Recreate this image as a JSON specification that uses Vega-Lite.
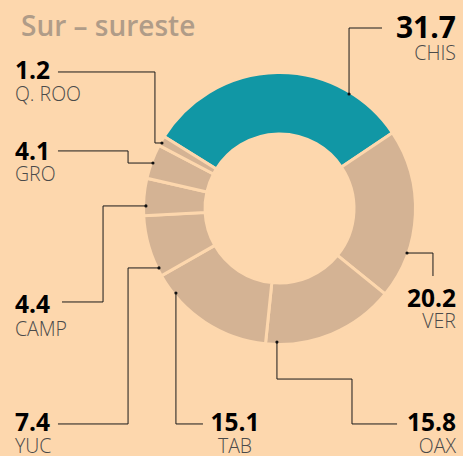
{
  "$schema": "https://vega.github.io/schema/vega-lite/v6.json",
  "autosize": {"type": "none"},
  "width": 367,
  "height": 417,
  "padding": {"left": 96, "top": 0, "right": 0, "bottom": 39},
  "background": "#FDD7AD",
  "config": {"view": {"stroke": null}},
  "datasets": {
    "shares": [
      {"state": "CHIS", "value": 31.7, "order": 1},
      {"state": "VER", "value": 20.2, "order": 2},
      {"state": "OAX", "value": 15.8, "order": 3},
      {"state": "TAB", "value": 15.1, "order": 4},
      {"state": "YUC", "value": 7.4, "order": 5},
      {"state": "CAMP", "value": 4.4, "order": 6},
      {"state": "GRO", "value": 4.1, "order": 7},
      {"state": "Q. ROO", "value": 1.2, "order": 8}
    ],
    "leaders": [
      {"state": "CHIS", "step": 1, "u": 0.762, "v": 1.342, "end": false},
      {"state": "CHIS", "step": 2, "u": 0.517, "v": 1.342, "end": false},
      {"state": "CHIS", "step": 3, "u": 0.517, "v": 0.851, "end": true},
      {"state": "Q. ROO", "step": 1, "u": -1.647, "v": 1.015, "end": false},
      {"state": "Q. ROO", "step": 2, "u": -0.926, "v": 1.015, "end": false},
      {"state": "Q. ROO", "step": 3, "u": -0.926, "v": 0.487, "end": false},
      {"state": "Q. ROO", "step": 4, "u": -0.874, "v": 0.487, "end": true},
      {"state": "GRO", "step": 1, "u": -1.647, "v": 0.428, "end": false},
      {"state": "GRO", "step": 2, "u": -1.126, "v": 0.428, "end": false},
      {"state": "GRO", "step": 3, "u": -1.126, "v": 0.338, "end": false},
      {"state": "GRO", "step": 4, "u": -0.941, "v": 0.338, "end": true},
      {"state": "CAMP", "step": 1, "u": -1.617, "v": -0.695, "end": false},
      {"state": "CAMP", "step": 2, "u": -1.312, "v": -0.695, "end": false},
      {"state": "CAMP", "step": 3, "u": -1.312, "v": 0.019, "end": false},
      {"state": "CAMP", "step": 4, "u": -0.993, "v": 0.019, "end": true},
      {"state": "YUC", "step": 1, "u": -1.647, "v": -1.602, "end": false},
      {"state": "YUC", "step": 2, "u": -1.126, "v": -1.602, "end": false},
      {"state": "YUC", "step": 3, "u": -1.126, "v": -0.442, "end": false},
      {"state": "YUC", "step": 4, "u": -0.896, "v": -0.442, "end": true},
      {"state": "TAB", "step": 1, "u": -0.569, "v": -1.602, "end": false},
      {"state": "TAB", "step": 2, "u": -0.770, "v": -1.602, "end": false},
      {"state": "TAB", "step": 3, "u": -0.770, "v": -0.628, "end": true},
      {"state": "OAX", "step": 1, "u": 0.874, "v": -1.602, "end": false},
      {"state": "OAX", "step": 2, "u": 0.539, "v": -1.602, "end": false},
      {"state": "OAX", "step": 3, "u": 0.539, "v": -1.268, "end": false},
      {"state": "OAX", "step": 4, "u": -0.019, "v": -1.268, "end": false},
      {"state": "OAX", "step": 5, "u": -0.019, "v": -0.993, "end": true},
      {"state": "VER", "step": 1, "u": 1.141, "v": -0.502, "end": false},
      {"state": "VER", "step": 2, "u": 1.141, "v": -0.331, "end": false},
      {"state": "VER", "step": 3, "u": 0.948, "v": -0.331, "end": true}
    ],
    "labels": [
      {"state": "CHIS", "num": "31.7", "name": "CHIS", "u": 1.312, "v": 1.268, "v2": 1.104, "align": "right"},
      {"state": "Q. ROO", "num": "1.2", "name": "Q. ROO", "u": -1.967, "v": 0.963, "v2": 0.799, "align": "left"},
      {"state": "GRO", "num": "4.1", "name": "GRO", "u": -1.967, "v": 0.361, "v2": 0.204, "align": "left"},
      {"state": "CAMP", "num": "4.4", "name": "CAMP", "u": -1.967, "v": -0.777, "v2": -0.948, "align": "left"},
      {"state": "YUC", "num": "7.4", "name": "YUC", "u": -1.967, "v": -1.654, "v2": -1.818, "align": "left"},
      {"state": "TAB", "num": "15.1", "name": "TAB", "u": -0.331, "v": -1.654, "v2": -1.818, "align": "center"},
      {"state": "OAX", "num": "15.8", "name": "OAX", "u": 1.312, "v": -1.654, "v2": -1.818, "align": "right"},
      {"state": "VER", "num": "20.2", "name": "VER", "u": 1.312, "v": -0.732, "v2": -0.888, "align": "right"}
    ],
    "title": [
      {"text": "Sur – sureste", "u": -1.922, "v": 1.283}
    ]
  },
  "layer": [
    {
      "data": {"name": "shares"},
      "mark": {"type": "arc", "outerRadius": 136, "innerRadius": 74.5, "stroke": "#FDD7AD", "strokeWidth": 3},
      "encoding": {
        "theta": {"field": "value", "type": "quantitative", "stack": true, "scale": {"range": [-1.0132, 5.27]}},
        "order": {"field": "order", "type": "quantitative"},
        "color": {"condition": {"test": "datum.state === 'CHIS'", "value": "#1197A5"}, "value": "#D4B394"}
      }
    },
    {
      "data": {"name": "leaders"},
      "mark": {"type": "line", "color": "#1a1a1a", "strokeWidth": 1},
      "encoding": {
        "x": {"field": "u", "type": "quantitative", "scale": {"domain": [-1.3643, 1.3643], "nice": false, "zero": false}, "axis": null},
        "y": {"field": "v", "type": "quantitative", "scale": {"domain": [-1.5502, 1.5502], "nice": false, "zero": false}, "axis": null},
        "detail": {"field": "state"},
        "order": {"field": "step", "type": "quantitative"}
      }
    },
    {
      "data": {"name": "leaders"},
      "transform": [{"filter": "datum.end"}],
      "mark": {"type": "circle", "color": "#111", "size": 10, "opacity": 1},
      "encoding": {
        "x": {"field": "u", "type": "quantitative"},
        "y": {"field": "v", "type": "quantitative"}
      }
    },
    {
      "data": {"name": "labels"},
      "transform": [{"filter": "datum.align === 'left'"}],
      "mark": {"type": "text", "align": "left", "baseline": "alphabetic", "font": "Open Sans", "fontWeight": "bold", "fontSize": 24.5, "color": "#000"},
      "encoding": {
        "x": {"field": "u", "type": "quantitative"},
        "y": {"field": "v", "type": "quantitative"},
        "text": {"field": "num"}
      }
    },
    {
      "data": {"name": "labels"},
      "transform": [{"filter": "datum.align === 'right'"}],
      "mark": {"type": "text", "align": "right", "baseline": "alphabetic", "font": "Open Sans", "fontWeight": "bold", "color": "#000"},
      "encoding": {
        "x": {"field": "u", "type": "quantitative"},
        "y": {"field": "v", "type": "quantitative"},
        "text": {"field": "num"},
        "size": {"condition": {"test": "datum.state === 'CHIS'", "value": 30}, "value": 24.5}
      }
    },
    {
      "data": {"name": "labels"},
      "transform": [{"filter": "datum.align === 'center'"}],
      "mark": {"type": "text", "align": "center", "baseline": "alphabetic", "font": "Open Sans", "fontWeight": "bold", "fontSize": 24.5, "color": "#000"},
      "encoding": {
        "x": {"field": "u", "type": "quantitative"},
        "y": {"field": "v", "type": "quantitative"},
        "text": {"field": "num"}
      }
    },
    {
      "data": {"name": "labels"},
      "transform": [{"filter": "datum.align === 'left'"}],
      "mark": {"type": "text", "align": "left", "baseline": "alphabetic", "font": "Open Sans", "fontWeight": 300, "fontSize": 19.5, "color": "#4a4a4a"},
      "encoding": {
        "x": {"field": "u", "type": "quantitative"},
        "y": {"field": "v2", "type": "quantitative"},
        "text": {"field": "name"}
      }
    },
    {
      "data": {"name": "labels"},
      "transform": [{"filter": "datum.align === 'right'"}],
      "mark": {"type": "text", "align": "right", "baseline": "alphabetic", "font": "Open Sans", "fontWeight": 300, "fontSize": 19.5, "color": "#4a4a4a"},
      "encoding": {
        "x": {"field": "u", "type": "quantitative"},
        "y": {"field": "v2", "type": "quantitative"},
        "text": {"field": "name"}
      }
    },
    {
      "data": {"name": "labels"},
      "transform": [{"filter": "datum.align === 'center'"}],
      "mark": {"type": "text", "align": "center", "baseline": "alphabetic", "font": "Open Sans", "fontWeight": 300, "fontSize": 19.5, "color": "#4a4a4a"},
      "encoding": {
        "x": {"field": "u", "type": "quantitative"},
        "y": {"field": "v2", "type": "quantitative"},
        "text": {"field": "name"}
      }
    },
    {
      "data": {"name": "title"},
      "mark": {"type": "text", "align": "left", "baseline": "alphabetic", "font": "Open Sans", "fontWeight": 600, "fontSize": 28, "color": "#B09C88"},
      "encoding": {
        "x": {"field": "u", "type": "quantitative"},
        "y": {"field": "v", "type": "quantitative"},
        "text": {"field": "text"}
      }
    }
  ]
}
